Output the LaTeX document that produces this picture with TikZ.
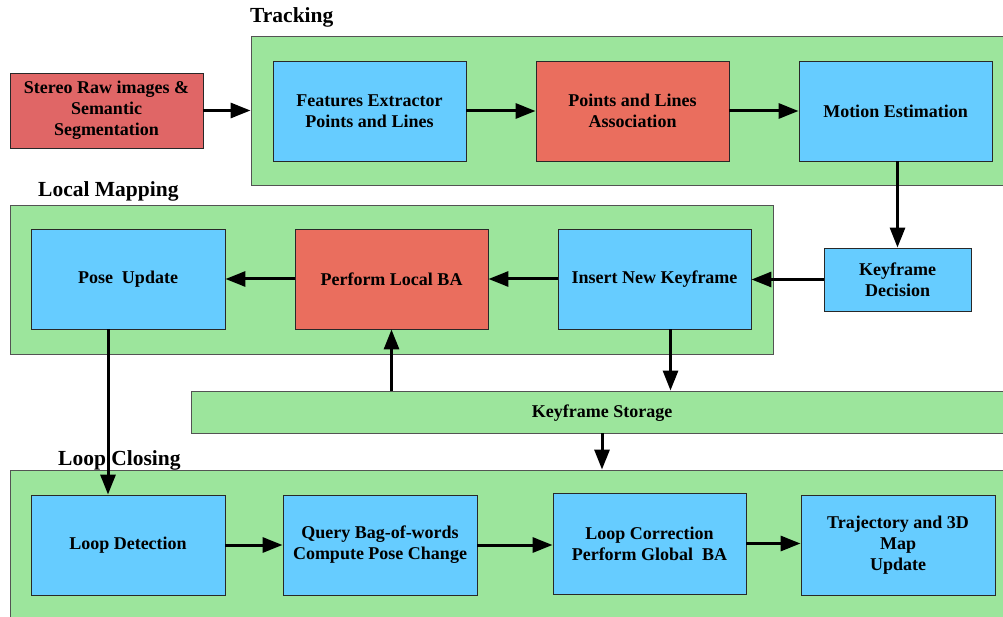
\documentclass[tikz,border=0pt]{standalone}
\usepackage{fontspec}
\setmainfont{Liberation Serif}
\usetikzlibrary{arrows.meta}
\definecolor{cgreen}{RGB}{156,229,156}
\definecolor{cblue}{RGB}{102,204,255}
\definecolor{cred}{RGB}{224,102,102}
\definecolor{corange}{RGB}{234,110,94}
\definecolor{cedge}{RGB}{40,40,40}
\tikzset{
  blk/.style={draw=cedge, line width=0.9pt, align=center, inner sep=0pt,
    font=\fontsize{18}{21}\selectfont\bfseries},
  cont/.style={draw=cedge!80, line width=0.9pt, fill=cgreen, inner sep=0pt},
  ttl/.style={font=\fontsize{21.5}{24}\selectfont\bfseries, anchor=west, inner sep=0pt},
  arr/.style={line width=3pt, -{Triangle[length=20pt,width=15pt]}}
}
\begin{document}
\begin{tikzpicture}[x=1pt,y=-1pt]
\useasboundingbox (0,0) rectangle (1003,617);
\begin{scope}
\clip (0,0) rectangle (1003,617);
% containers
\node[cont, minimum width=772pt, minimum height=149pt] (track) at (637,110.5) {};
\node[cont, minimum width=763pt, minimum height=149pt] (lmap) at (391.5,279.5) {};
\node[cont, minimum width=830pt, minimum height=42pt] (store) at (606,412) {};
\node[cont, minimum width=1013pt, minimum height=170pt] (lclose) at (516.5,555) {};
\node[font=\fontsize{18}{21}\selectfont\bfseries] (storelbl) at (602,413) {Keyframe Storage};
% titles
\node[ttl] (ttrack) at (250,17) {Tracking};
\node[ttl] (tlmap) at (38,191) {Local Mapping};
\node[ttl] (tlclose) at (58,460) {Loop Closing};
% blocks
\node[blk, fill=cred, minimum width=193pt, minimum height=75pt] (stereo) at (106.5,110.5) {Stereo Raw images \&\\Semantic\\Segmentation};
\node[blk, fill=cblue, minimum width=193pt, minimum height=100pt] (feat) at (369.5,111) {Features Extractor\\Points and Lines};
\node[blk, fill=corange, minimum width=193pt, minimum height=100pt] (assoc) at (632.5,111) {Points and Lines\\Association};
\node[blk, fill=cblue, minimum width=193pt, minimum height=100pt] (motion) at (895.5,111) {Motion Estimation};
\node[blk, fill=cblue, minimum width=147pt, minimum height=63pt] (kfd) at (897.5,279.5) {Keyframe\\Decision};
\node[blk, fill=cblue, minimum width=194pt, minimum height=100pt] (pose) at (128,279) {Pose\ \ Update};
\node[blk, fill=corange, minimum width=193pt, minimum height=100pt] (lba) at (391.5,279) {Perform Local BA};
\node[blk, fill=cblue, minimum width=193pt, minimum height=100pt] (ins) at (654.5,279) {Insert New Keyframe};
\node[blk, fill=cblue, minimum width=194pt, minimum height=100pt] (ldet) at (128,545) {Loop Detection};
\node[blk, fill=cblue, minimum width=194pt, minimum height=100pt] (query) at (380,545) {Query Bag-of-words\\Compute Pose Change};
\node[blk, fill=cblue, minimum width=193pt, minimum height=101pt] (corr) at (649.5,543.5) {Loop Correction\\Perform Global\ \ BA};
\node[blk, fill=cblue, minimum width=194pt, minimum height=100pt] (traj) at (898,545) {Trajectory and 3D\\Map\\Update};
% connectors
\draw[arr] (stereo.east) -- (stereo.east -| track.west);
\draw[arr] (feat.east) -- (assoc.west);
\draw[arr] (assoc.east) -- (motion.west);
\draw[arr] (motion.south -| kfd.north) -- (kfd.north);
\draw[arr] (kfd.west) -- (kfd.west -| ins.east);
\draw[arr] (ins.west) -- (lba.east);
\draw[arr] (lba.west) -- (pose.east);
\draw[arr] ([xshift=16pt]ins.south) -- ([xshift=16pt]ins.south |- store.north);
\draw[arr] (lba.south |- store.north) -- (lba.south);
\draw[arr] ([xshift=-20pt]pose.south) -- ([xshift=-20pt]ldet.north);
\draw[arr] (storelbl.south |- store.south) -- (storelbl.south |- lclose.north);
\draw[arr] (ldet.east) -- (query.west);
\draw[arr] (query.east) -- (query.east -| corr.west);
\draw[arr] (corr.east) -- (corr.east -| traj.west);
\end{scope}
\end{tikzpicture}
\end{document}
